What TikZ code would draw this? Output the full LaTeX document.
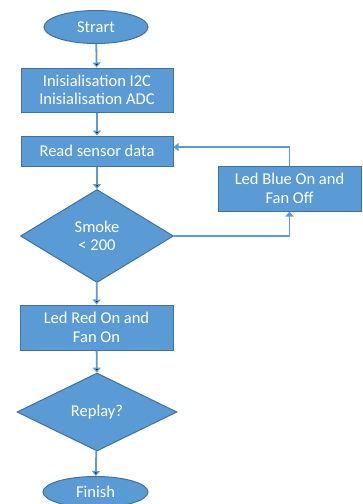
\documentclass[tikz,border=0pt]{standalone}
\usepackage{fontspec}
\setmainfont{Carlito}
\usetikzlibrary{shapes.geometric,arrows.meta}
\definecolor{boxblue}{HTML}{5B9BD5}
\definecolor{edgeblue}{HTML}{41719C}
\tikzset{
  every node/.style={font=\fontsize{16.5}{18.5}\selectfont, text=white, align=center},
  term/.style={ellipse, draw=edgeblue, fill=boxblue, line width=1pt, inner sep=0pt},
  proc/.style={rectangle, draw=edgeblue, fill=boxblue, line width=1pt, inner sep=0pt},
  dec/.style={diamond, aspect=1.65, draw=edgeblue, fill=boxblue, line width=1pt, inner sep=0pt},
  flow/.style={draw=boxblue, line width=1.8pt, -{Triangle[length=5pt,width=8pt]}}
}

\begin{document}
\begin{tikzpicture}[x=1pt, y=-1pt]
  \useasboundingbox (0,0) rectangle (362,504);
  \node[term, minimum width=104pt, minimum height=33pt] (start) at (96,27) {Strart};
  \node[proc, minimum width=152pt, minimum height=44pt] (init) at (97,90) {Inisialisation I2C\\Inisialisation ADC};
  \node[proc, minimum width=152pt, minimum height=30pt] (read) at (97,151) {Read sensor data};
  \node[dec, minimum width=153pt, minimum height=93pt] (smoke) at (97,236) {Smoke\\\textless{} 200};
  \node[proc, minimum width=143pt, minimum height=45pt] (blue) at (289.5,188.5) {Led Blue On and\\Fan Off};
  \node[proc, minimum width=153pt, minimum height=45pt] (red) at (96.5,327.5) {Led Red On and\\Fan On};
  \node[dec, minimum width=160pt, minimum height=78pt] (replay) at (97,412) {Replay?};
  \node[term, minimum width=105pt, minimum height=31pt] (finish) at (95.5,492) {Finish};
  \path[flow] (start) edge (init);
  \path[flow] (init) edge (read);
  \path[flow] (read) edge (smoke);
  \path[flow] (smoke) edge (red);
  \path[flow] (red) edge (replay);
  \path[flow] (replay) edge (finish);
  \draw[flow] (smoke.east) -| (blue.south);
  \draw[flow] (blue.north) |- ([yshift=4pt]read.east);
\end{tikzpicture}
\end{document}
